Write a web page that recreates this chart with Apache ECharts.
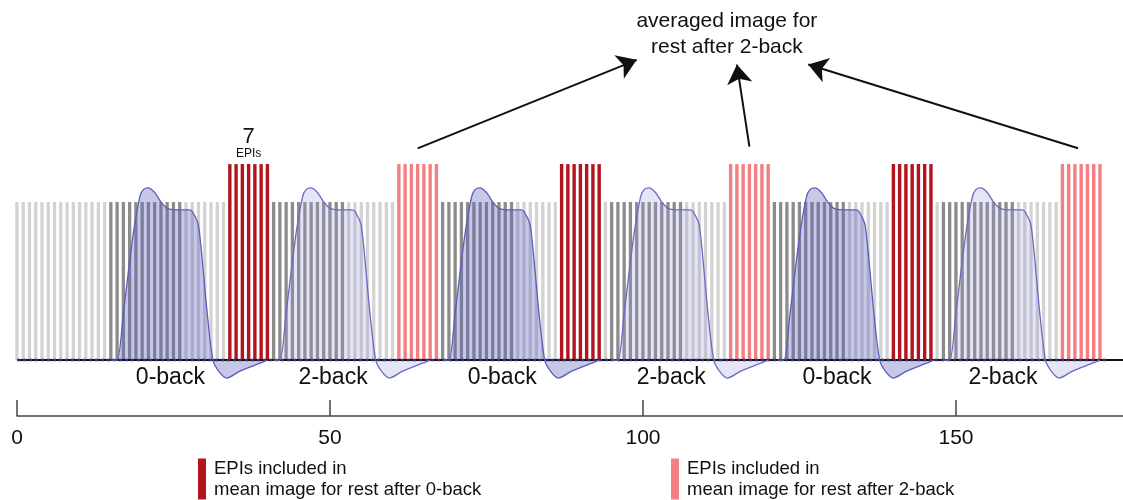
<!DOCTYPE html>
<html>
<head>
<meta charset="utf-8">
<script src="https://cdn.jsdelivr.net/npm/echarts@6/dist/echarts.min.js"></script>
<style>html,body{margin:0;padding:0;background:#fff}#c{width:1123px;height:500px}</style>
</head>
<body>
<div id="c"></div>
<script>
// ---------- data ----------
const epiCount = 174;                              // EPIs 0..173
const taskOnsets = [15, 41, 68, 95, 121, 148];     // dark grey = task EPIs
const taskLen = 12;
const redOnsets = [34, 87, 140];                   // rest after 0-back (7 EPIs)
const pinkOnsets = [61, 114, 167];                 // rest after 2-back (7 EPIs)
const restLen = 7;
const greyHeight = 1.0;
const colourHeight = 1.24;

// BOLD response shape (offset from block onset, signal)
const hrfOffsets = [0, 1, 2, 3.5, 4.6, 5.2, 6, 7, 8, 9, 11, 12.5, 13, 14, 15.3, 16.3, 17.4, 18.5, 20.6, 23.8, 25];
const hrfValues  = [0, 0, 0.3, 0.78, 1.03, 1.08, 1.09, 1.06, 1.0, 0.96, 0.95, 0.95, 0.94, 0.85, 0.33, 0, -0.08, -0.114, -0.07, -0.02, 0];
const curveOnsets0back = [15, 68, 121.5];
const curveOnsets2back = [41, 95, 148];

const taskLabels = [
  [24.5, '0-back'], [50.5, '2-back'], [77.5, '0-back'],
  [104.5, '2-back'], [131, '0-back'], [157.5, '2-back']
];
const xTicks = [0, 50, 100, 150];
const legendLabels = {
  'rest after 0-back': 'EPIs included in\nmean image for rest after 0-back',
  'rest after 2-back': 'EPIs included in\nmean image for rest after 2-back'
};
// arrows from the pink blocks to the annotation text
const arrows = [
  [[64, 1.34], [99.0, 1.90]],
  [[117, 1.35], [115.0, 1.87]],
  [[169.5, 1.34], [126.4, 1.87]]
];

// ---------- build ----------
function inBlocks(i, onsets, len) {
  return onsets.some(o => i >= o && i < o + len);
}
const lightData = [], darkData = [], redData = [], pinkData = [];
for (let i = 0; i < epiCount; i++) {
  if (inBlocks(i, redOnsets, restLen)) redData.push([i, colourHeight]);
  else if (inBlocks(i, pinkOnsets, restLen)) pinkData.push([i, colourHeight]);
  else if (inBlocks(i, taskOnsets, taskLen)) darkData.push([i, greyHeight]);
  else lightData.push([i, greyHeight]);
}
function curve(onset) {
  return hrfOffsets.map((o, k) => [onset + o, hrfValues[k]]);
}
const FONT = 'Liberation Sans, Arial, Helvetica, sans-serif';

const barCommon = { type: 'bar', barWidth: 3.3, barGap: '-100%', clip: false, silent: true };
const series = [
  Object.assign({ name: 'rest', data: lightData, itemStyle: { color: '#d3d3d3' } }, barCommon),
  Object.assign({ name: 'task', data: darkData, itemStyle: { color: '#8c8c8c' } }, barCommon),
  Object.assign({ name: 'rest after 0-back', data: redData, itemStyle: { color: '#b3151f' } }, barCommon, { barWidth: 3.4 }),
  Object.assign({ name: 'rest after 2-back', data: pinkData, itemStyle: { color: '#f47f82' } }, barCommon, { barWidth: 3.4 }),
  // baseline
  { type: 'line', data: [[0, 0], [176.7, 0]], symbol: 'none', silent: true,
    lineStyle: { color: '#111', width: 2 } },
  { type: 'line', data: [[0, 0], [174, 0]], symbol: 'none', silent: true,
    lineStyle: { color: '#2a3284', width: 2.5, type: [3, 3] } }
];
curveOnsets0back.forEach(o => series.push({
  type: 'line', data: curve(o), symbol: 'none', smooth: 0.25, silent: true, clip: false,
  lineStyle: { color: '#5c5cbd', width: 1.3 },
  areaStyle: { color: 'rgba(95,95,190,0.5)', origin: 0 }
}));
curveOnsets2back.forEach(o => series.push({
  type: 'line', data: curve(o), symbol: 'none', smooth: 0.25, silent: true, clip: false,
  lineStyle: { color: '#6a6ac4', width: 1.3 },
  areaStyle: { color: 'rgba(150,150,215,0.35)', origin: 0 }
}));
// arrows
series.push({
  type: 'lines', coordinateSystem: 'cartesian2d', silent: true,
  symbol: ['none', 'arrow'], symbolSize: 19,
  lineStyle: { color: '#111', width: 2, opacity: 1 },
  data: arrows.map(a => ({ coords: a }))
});
// text annotations
series.push({
  type: 'scatter', symbolSize: 0, silent: true, clip: false,
  itemStyle: { opacity: 1 },
  data: taskLabels.map(t => ({ value: [t[0], -0.114], name: t[1] })),
  label: { show: true, position: 'inside', formatter: p => p.name,
    fontFamily: FONT, fontSize: 23, color: '#111' }
});
series.push({
  type: 'scatter', symbolSize: 0, silent: true, clip: false,
  itemStyle: { opacity: 1 },
  data: [
    { value: [37, 1.373], label: { formatter: '{a|7}\n{b|EPIs}' } },
    { value: [113.4, 2.06], label: { formatter: 'averaged image for\nrest after 2-back', fontSize: 21, lineHeight: 26 } }
  ],
  label: { show: true, position: 'inside', fontFamily: FONT, color: '#111',
    rich: { a: { fontSize: 22, lineHeight: 22, fontFamily: FONT, color: '#111' },
            b: { fontSize: 12, lineHeight: 13, fontFamily: FONT, color: '#111' } } }
});

const legendText = { fontFamily: FONT, fontSize: 18.5, lineHeight: 21, color: '#111', padding: [0, 0, 0, 3] };
const chart = echarts.init(document.getElementById('c'), null, { renderer: 'canvas' });
chart.setOption({
  animation: false,
  backgroundColor: '#fff',
  grid: { left: 17, right: 0, top: 4.5, bottom: 84, containLabel: false },
  xAxis: {
    type: 'value', min: 0, max: 176.68,
    axisLine: { onZero: false, lineStyle: { color: '#444', width: 1.5 } },
    axisTick: { inside: true, length: 16, lineStyle: { color: '#444', width: 1.5 }, customValues: xTicks },
    axisLabel: { customValues: xTicks, fontFamily: FONT, fontSize: 21, color: '#111', margin: 12 },
    splitLine: { show: false }
  },
  yAxis: { type: 'value', min: -0.354, max: 2.25, show: false, splitLine: { show: false } },
  legend: [
    { data: ['rest after 0-back'], left: 198, top: 458, padding: 0, icon: 'rect', itemWidth: 8, itemHeight: 41,
      selectedMode: false, formatter: n => legendLabels[n], textStyle: legendText },
    { data: ['rest after 2-back'], left: 671, top: 458, padding: 0, icon: 'rect', itemWidth: 8, itemHeight: 41,
      selectedMode: false, formatter: n => legendLabels[n], textStyle: legendText }
  ],
  series: series
});
</script>
</body>
</html>
